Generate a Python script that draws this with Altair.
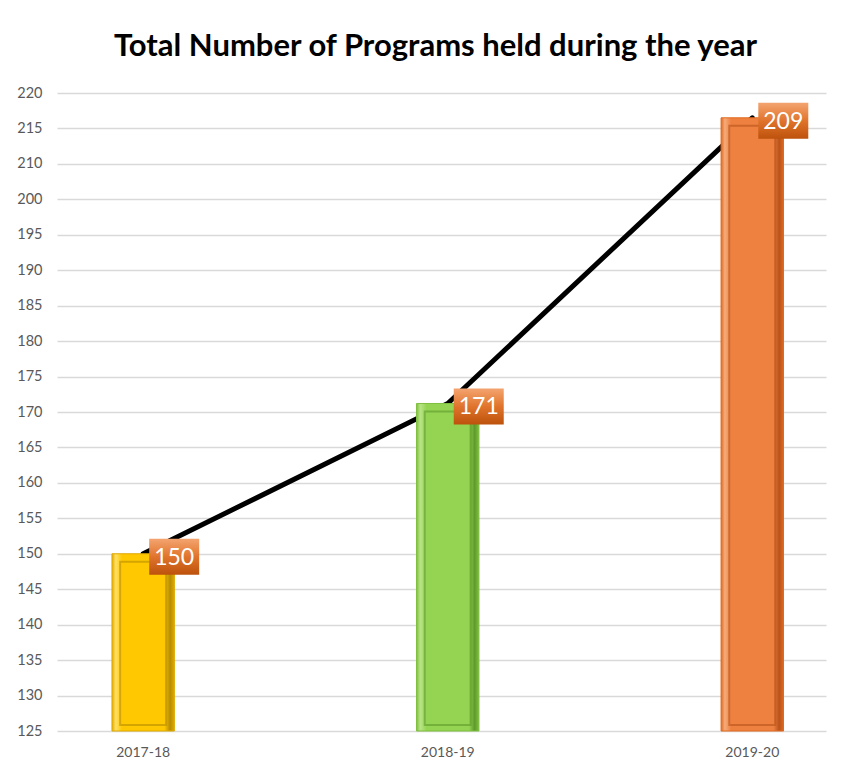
import altair as alt
import pandas as pd

# ---- data ----
categories = ["2017-18", "2018-19", "2019-20"]
bar_values = [150, 171.2, 211.5]          # drawn bar heights (on the evenly spaced axis)
value_labels = ["150", "171", "209"]       # data labels shown in the boxes
y_tick_labels = ["125", "130", "135", "140", "145", "150", "155", "160", "165",
                 "170", "175", "180", "185", "190", "195", "200", "210", "215", "220"]

# ---- styles ----
base_cols = ["#ffc800", "#94d452", "#ee8040"]
light_cols = ["#ffe066", "#b8e585", "#f6ab7a"]
dark_cols = ["#b88c00", "#5f9a2c", "#b8531a"]
edge_cols = ["#e0aa00", "#7fbf3f", "#e06a20"]

df = pd.DataFrame({"year": categories, "value": bar_values, "label": value_labels})

y_min = int(y_tick_labels[0])
y_ticks = [y_min + 5 * i for i in range(len(y_tick_labels))]
label_expr = "[" + ",".join(f"'{t}'" for t in y_tick_labels) + f"][round((datum.value-{y_min})/5)]"

FONT = "Lato"

x_enc = alt.X(
    "year:N", sort=categories,
    scale=alt.Scale(paddingInner=0.795, paddingOuter=0.16, align=0.564),
    axis=alt.Axis(title=None, labelAngle=0, ticks=False, domain=False, grid=False,
                  labelPadding=14, labelFontSize=14, labelColor="#595959",
                  labelFont=FONT),
)
y_enc = alt.Y(
    "value:Q",
    scale=alt.Scale(domain=[y_ticks[0], y_ticks[-1]], nice=False, zero=False),
    axis=alt.Axis(values=y_ticks, labelExpr=label_expr, title=None, ticks=False,
                  domain=False, gridColor="#d9d9d9", gridWidth=1.5,
                  labelPadding=15, labelFontSize=14.5, labelColor="#595959",
                  labelFont=FONT),
)

base = alt.Chart(df)

line = base.mark_line(color="black", strokeWidth=5, strokeCap="round").encode(
    x=x_enc, y=y_enc
)

layers = [line]
for i, cat in enumerate(categories):
    grad = alt.LinearGradient(
        gradient="linear", x1=0, x2=1, y1=0, y2=0,
        stops=[
            alt.GradientStop(offset=0, color=edge_cols[i]),
            alt.GradientStop(offset=0.06, color=light_cols[i]),
            alt.GradientStop(offset=0.16, color=base_cols[i]),
            alt.GradientStop(offset=0.84, color=base_cols[i]),
            alt.GradientStop(offset=0.93, color=dark_cols[i]),
            alt.GradientStop(offset=1, color=edge_cols[i]),
        ],
    )
    bar = base.transform_filter(alt.datum.year == cat).mark_bar(
        fill=grad, stroke=edge_cols[i], strokeWidth=1
    ).encode(x=x_enc, y=y_enc, y2=alt.datum(y_ticks[0]))
    inner = base.transform_filter(alt.datum.year == cat).mark_bar(
        fillOpacity=0, stroke=dark_cols[i], strokeWidth=2, strokeOpacity=0.6,
        width=46, yOffset=8, y2Offset=-6
    ).encode(x=x_enc, y=y_enc, y2=alt.datum(y_ticks[0]))
    layers += [bar, inner]

box_grad = alt.LinearGradient(
    gradient="linear", x1=0, x2=0, y1=0, y2=1,
    stops=[
        alt.GradientStop(offset=0, color="#f4a470"),
        alt.GradientStop(offset=0.5, color="#e0742c"),
        alt.GradientStop(offset=1, color="#bd520c"),
    ],
)
boxes = base.mark_point(
    shape="M-1,-0.72L1,-0.72L1,0.72L-1,0.72Z", size=2500, filled=True,
    fill=box_grad, opacity=1, strokeWidth=0, xOffset=31, yOffset=3
).encode(x=x_enc, y=y_enc)

texts = base.mark_text(
    color="white", fontSize=23, font=FONT, xOffset=31, yOffset=4, baseline="middle"
).encode(x=x_enc, y=y_enc, text="label:N")

layers += [boxes, texts]

chart = alt.layer(*layers).properties(
    width=769, height=638,
    title=alt.Title("Total Number of Programs held during the year",
                    fontSize=31, font=FONT, fontWeight="bold", color="black",
                    anchor="middle", offset=22, dx=-6),
    autosize=alt.AutoSizeParams(type="none"),
    padding={"left": 49, "top": 85, "right": 20, "bottom": 35},
).configure_view(stroke=None)

chart.save("out.html", embed_options={"renderer": "svg", "actions": False})
